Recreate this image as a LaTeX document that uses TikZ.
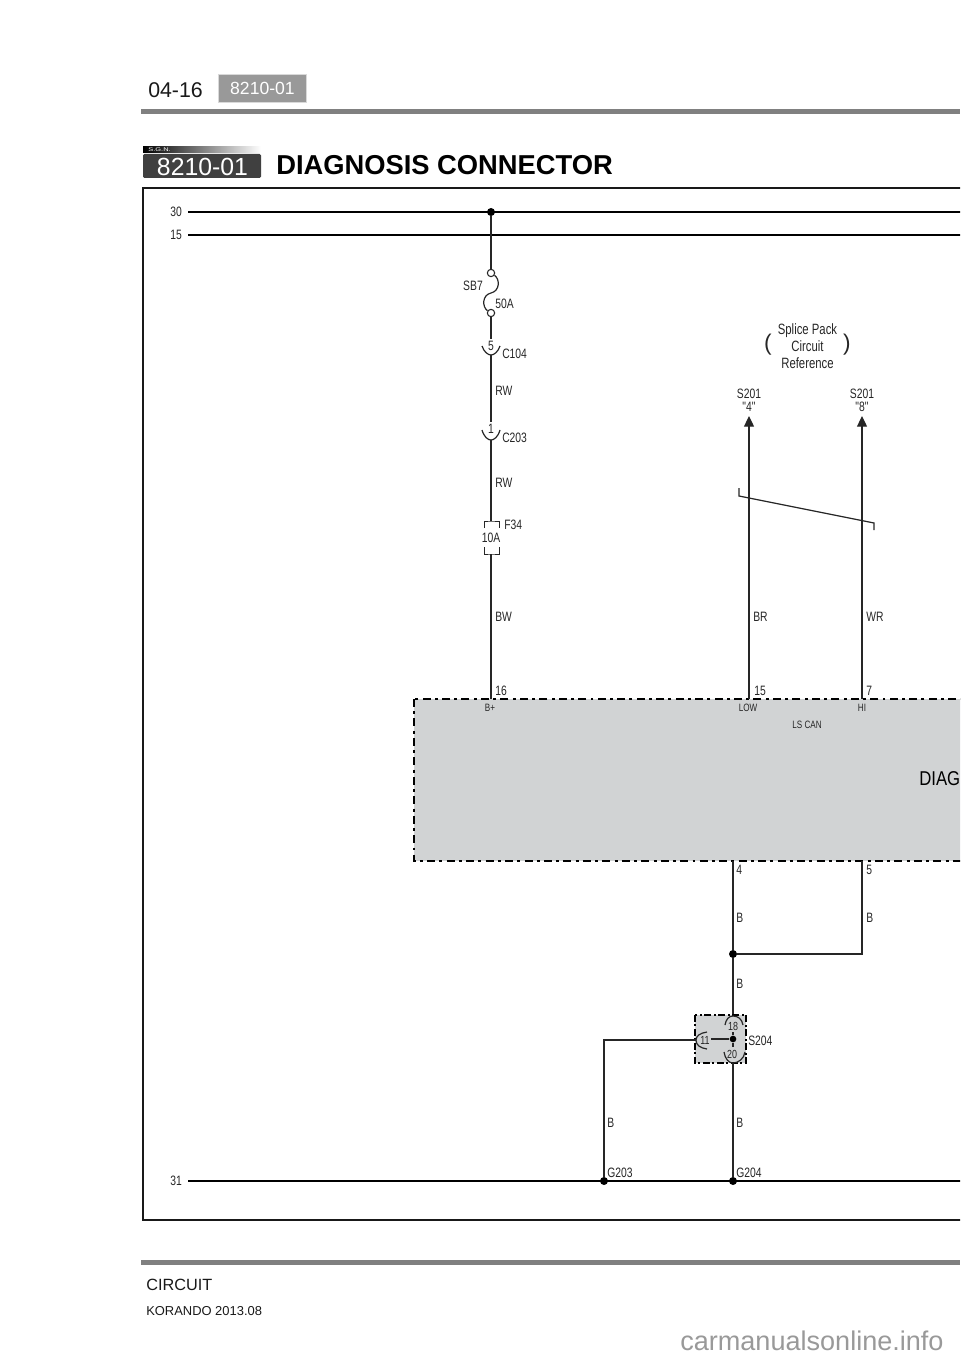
\documentclass[tikz,border=0pt]{standalone}
\usepackage{fontspec}
\setmainfont{Liberation Sans}
\newfontfamily\narrowfont[FakeStretch=0.76]{Liberation Sans}
\usepackage{xcolor}
\usetikzlibrary{arrows.meta, positioning, shadings}
\definecolor{rulegray}{HTML}{808080}
\definecolor{boxgray}{HTML}{D1D3D4}
\definecolor{badgegray}{HTML}{404040}

\tikzset{
	wire/.style={line width=.9pt, black!85},
	bus/.style={line width=1.5pt, black},
	symbol/.style={line width=.9pt, black!85},
	dot/.style={circle, fill=black, inner sep=0pt, minimum size=6pt},
	ring/.style={circle, draw=black!85, line width=.8pt, fill=white, inner sep=0pt, minimum size=5.5pt},
	lbl/.style={font=\narrowfont\fontsize{10.2}{10}\selectfont, text=black!85, inner sep=0pt},
	lblw/.style={lbl, anchor=west},
	small/.style={lbl, font=\narrowfont\fontsize{8}{8}\selectfont},
	module/.style={fill=boxgray, draw=black, line width=2.2pt, dash pattern=on 6pt off 3.2pt on 2.2pt off 3.2pt},
}

\begin{document}
\begin{tikzpicture}[x=.75pt, y=-.75pt]
	\useasboundingbox (0,0) rectangle (960,1358);
	\clip (0,0) rectangle (960,1358);

	% Header
	\node[anchor=base west, inner sep=0pt, font=\fontsize{16}{16}\selectfont, text=black!90] (page) at (148,98) {04-16};
	\node[anchor=center, minimum width=66pt, minimum height=21pt, inner sep=0pt, fill=black!40, draw=black!15, line width=1pt, font=\fontsize{13.2}{14}\selectfont, text=white] (code) at (262.5,88.5) {8210-01};
	\fill[rulegray] (141,109.5) rectangle (960,114.5);

	% Title
	\shade[left color=black, right color=white] (143,147) rectangle (261,153);
	\node[anchor=west, inner sep=0pt, xscale=1.4, font=\fontsize{4}{4}\selectfont, text=white] (sgn) at (148,150) {S.G.N.};
	\fill[badgegray, rounded corners=1pt] (143,154) rectangle (261,178);
	\node[inner sep=0pt, font=\fontsize{18.6}{19}\selectfont, text=white] (sgncode) at (202.5,167) {8210-01};
	\node[anchor=base west, inner sep=0pt, font=\bfseries\fontsize{20.5}{21}\selectfont, text=black] (title) at (276,175) {DIAGNOSIS CONNECTOR};

	% Frame
	\draw[line width=1.2pt, black!90] (970,188) -- (143,188) -- (143,1220) -- (970,1220);

	% Module
	\path[module] (414,699) rectangle (1000,861);

	% Buses
	\node[lbl] (n30) at (176,212) {30};
	\node[lbl] (n15) at (176,235) {15};
	\node[lbl] (n31) at (176,1181) {31};
	\coordinate (b30l) at (188,212);
	\coordinate (b30r) at (965,212);
	\coordinate (b15l) at (188,235);
	\coordinate (b15r) at (965,235);
	\coordinate (b31l) at (188,1181);
	\coordinate (b31r) at (965,1181);
	\draw[bus] (b30l) -- (b30r);
	\draw[bus] (b15l) -- (b15r);
	\draw[bus] (b31l) -- (b31r);

	% Left branch
	\node[dot] (j30) at (491,212) {};
	\node[ring] (sbtop) at (491,273) {};
	\node[ring] (sbbot) at (491,313) {};
	\draw[wire] (j30) -- (sbtop);
	\draw[symbol] (sbtop) .. controls (500,279) and (500,291) .. (491,293) .. controls (482,295) and (482,307) .. (sbbot);
	\node[lbl] (sb7) at (473,286) {SB7};
	\node[lblw] (a50) at (495,304) {50A};

	\coordinate (c104t) at (491,339);
	\coordinate (c104b) at (491,355);
	\coordinate (c203t) at (491,422);
	\coordinate (c203b) at (491,440);
	\coordinate (f34t) at (491,521);
	\coordinate (f34b) at (491,554);
	\coordinate (p16) at (491,699);
	\draw[wire] (sbbot) -- (c104t);
	\draw[symbol] (482,346) .. controls (484,352) and (488,355) .. (c104b) .. controls (494,355) and (498,352) .. (500,346);
	\node[lbl] (p5) at (491,346) {5};
	\node[lblw] (c104) at (502,354) {C104};
	\draw[wire] (c104b) -- (c203t);
	\node[lblw] (rw1) at (495,391) {RW};
	\draw[symbol] (482,430) .. controls (484,437) and (488,440) .. (c203b) .. controls (494,440) and (498,437) .. (500,430);
	\node[lbl] (p1) at (491,429) {1};
	\node[lblw] (c203) at (502,438) {C203};
	\draw[wire] (c203b) -- (f34t);
	\node[lblw] (rw2) at (495,483) {RW};
	\draw[symbol, line width=.6pt] (484,528) |- (f34t) -| (499,528);
	\draw[symbol, line width=.6pt] (484,547) |- (f34b) -| (499,547);
	\node[lbl] (a10) at (491,538) {10A};
	\node[lblw] (f34) at (504,525) {F34};
	\draw[wire] (f34b) -- (p16);
	\node[lblw] (bw) at (495,617) {BW};
	\node[lblw] (n16) at (495,691) {16};

	% Splice pack reference
	\node[lbl, align=center, font=\narrowfont\fontsize{11.2}{13}\selectfont] (splice) at (807.5,346) {Splice Pack\\Circuit\\Reference};
	\node[lbl, font=\fontsize{17}{17}\selectfont] (pl) at (768,345) {(};
	\node[lbl, font=\fontsize{17}{17}\selectfont] (pr) at (847,345) {)};
	\node[lbl, align=center, font=\narrowfont\fontsize{10.2}{9.5}\selectfont] (s2014) at (749,400) {S201\\"4"};
	\node[lbl, align=center, font=\narrowfont\fontsize{10.2}{9.5}\selectfont] (s2018) at (862,400) {S201\\"8"};
	\coordinate (tipl) at (749,416);
	\coordinate (tipr) at (862,416);
	\coordinate (p15) at (749,699);
	\coordinate (p7) at (862,699);
	\draw[wire, {Triangle[length=8pt, width=7.5pt]}-] (tipl) -- (p15);
	\draw[wire, {Triangle[length=8pt, width=7.5pt]}-] (tipr) -- (p7);
	\draw[symbol] (739,488) -- (739,496) -- (874,523) -- (874,530);
	\node[lblw] (br) at (753,617) {BR};
	\node[lblw] (wr) at (866,617) {WR};
	\node[lblw] (n15p) at (754,691) {15};
	\node[lblw] (n7) at (866,691) {7};

	% Module texts
	\node[small] (bplus) at (490,708) {B+};
	\node[small] (low) at (748,708) {LOW};
	\node[small] (hi) at (862,708) {HI};
	\node[small] (lscan) at (807,725) {LS CAN};
	\node[lblw, xscale=1.1, font=\narrowfont\fontsize{15}{15}\selectfont, text=black] (diag) at (919,779) {DIAGNOSIS};

	% Ground side
	\coordinate (p4) at (733,861);
	\coordinate (p5b) at (862,861);
	\coordinate (c5) at (862,954);
	\node[dot] (j954) at (733,954) {};
	\coordinate (s18) at (733,1016);
	\draw[wire] (p4) -- (j954);
	\draw[wire] (p5b) -- (c5) -- (j954);
	\draw[wire] (j954) -- (s18);
	\node[lblw] (n4) at (736,870) {4};
	\node[lblw] (n5) at (866,870) {5};
	\node[lblw] (b1) at (736,918) {B};
	\node[lblw] (b2) at (866,918) {B};
	\node[lblw] (b3) at (736,984) {B};

	% S204
	\path[module, line width=1pt, dash pattern=on 5pt off 2pt on 1.5pt off 2pt] (695,1015) rectangle (746,1063);
	\node[dot, minimum size=5pt] (j204) at (733,1039) {};
	\coordinate (a18) at (733,1032);
	\coordinate (a20) at (733,1047);
	\coordinate (a11) at (711,1039);
	\draw[symbol] (725,1025) .. controls (726,1019) and (729,1016) .. (s18) .. controls (738,1016) and (742,1019) .. (743,1025);
	\draw[symbol] (724,1052) .. controls (725,1059) and (729,1063) .. (733,1063) .. controls (738,1063) and (744,1059) .. (745,1052);
	\draw[symbol] (707,1032) .. controls (700,1033) and (696,1036) .. (696,1040) .. controls (696,1045) and (700,1048) .. (707,1049);
	\draw[wire] (a18) -- (j204);
	\draw[wire] (j204) -- (a20);
	\draw[wire] (a11) -- (j204);
	\node[small, font=\narrowfont\fontsize{8.8}{9}\selectfont] (n18) at (733,1026) {18};
	\node[small, font=\narrowfont\fontsize{8.8}{9}\selectfont] (n20) at (732,1054) {20};
	\node[small, font=\narrowfont\fontsize{8.8}{9}\selectfont] (n11) at (705,1040) {11};
	\node[lblw] (s204) at (748,1041) {S204};

	\node[dot] (g203) at (604,1181) {};
	\node[dot] (g204) at (733,1181) {};
	\coordinate (c11) at (604,1040);
	\coordinate (e11) at (696,1040);
	\coordinate (e20) at (733,1063);
	\draw[wire] (e11) -- (c11) -- (g203);
	\draw[wire] (e20) -- (g204);
	\node[lblw] (b4) at (607,1123) {B};
	\node[lblw] (b5) at (736,1123) {B};
	\node[lblw] (lg203) at (607,1173) {G203};
	\node[lblw] (lg204) at (736,1173) {G204};

	% Footer
	\fill[rulegray] (141,1259.5) rectangle (960,1264.5);
	\node[anchor=base west, inner sep=0pt, font=\fontsize{12.2}{13}\selectfont, text=black!90] (circuit) at (146,1290) {CIRCUIT};
	\node[anchor=base west, inner sep=0pt, font=\fontsize{9.7}{11}\selectfont, text=black!90] (korando) at (146,1315) {KORANDO 2013.08};
	\node[anchor=base west, inner sep=0pt, font=\fontsize{20.3}{21}\selectfont, text=black!40] (mark) at (680,1350) {carmanualsonline.info};
\end{tikzpicture}
\end{document}
